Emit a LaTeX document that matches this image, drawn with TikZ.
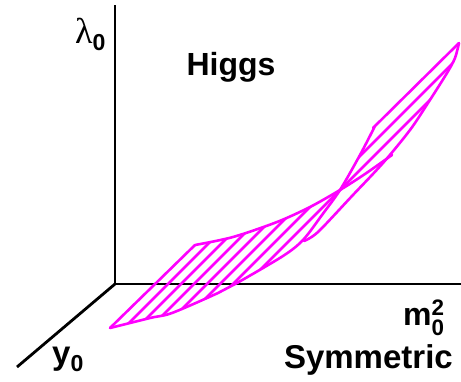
\documentclass[tikz,border=0pt]{standalone}
\usepackage{amsmath}
\usepackage{fontspec}
\setmainfont{Liberation Sans}
\newfontfamily\lamfont{Liberation Serif}
\usetikzlibrary{positioning}
\definecolor{phasemagenta}{HTML}{FF00FF}

\begin{document}
\begin{tikzpicture}[x=1pt,y=-1pt,axis/.style={line width=2.8pt},phase/.style={draw=phasemagenta,line width=2.6pt,line cap=round,line join=round},lbl/.style={font=\fontsize{33}{33}\selectfont\bfseries,inner sep=0pt}]
\useasboundingbox (0,0) rectangle (461,381);
% axes
\coordinate (orig) at (115,284);\coordinate (ytop) at (115,5);\coordinate (xend) at (461,284);\coordinate (zend) at (17,367);
\draw[axis] (ytop)--(orig)--(xend);\draw[axis] (orig)--(zend);
% hatching, lower lobe
\begin{scope}
\clip (110,328) -- plot[smooth] coordinates {(195,245) (233,237) (277,222) (310,207) (340,190)} -- plot[smooth] coordinates {(340,190) (322,215) (303,240) (283,256) (237,283) (218,293) (172,313) (150,318) (110,328)} -- cycle;
\foreach \c in {452,465,...,530} \draw[phase] ({\c-380},380) -- (\c,0);
\end{scope}
% hatching, upper lobe
\begin{scope}
\clip plot[smooth] coordinates {(304,241) (322,215) (340,190) (360,155) (375,126)} -- (459,43) -- plot[smooth] coordinates {(459,43) (455,58) (447,73) (428,103) (410,130) (383,163) (352,196) (318,232) (304,241)} -- cycle;
\foreach \c in {516,530} \draw[phase] ({\c-380},380) -- (\c,0);
\end{scope}
% boundaries
\draw[phase] (110,328) -- (195,245);
\draw[phase] plot[smooth] coordinates {(195,245) (233,237) (277,222) (310,207) (340,190) (365,174) (392,155)};
\draw[phase] plot[smooth] coordinates {(110,328) (150,318) (172,313) (218,293) (237,283) (283,256) (303,240) (322,215) (340,190) (360,155) (375,126)} -- (373,128) -- (459,43);
\draw[phase] plot[smooth] coordinates {(459,43) (455,58) (447,73) (428,103) (410,130) (383,163) (352,196) (318,232) (304,241)};
% labels
\node[lbl,anchor=base west] (lam) at (75,43) {$\text{\lamfont\mdseries\fontsize{36}{36}\selectfont λ}_{\text{0}}$};
\node[lbl,anchor=base,font=\fontsize{32}{32}\selectfont\bfseries] (higgs) at (231,75) {Higgs};
\node[lbl,anchor=base west,font=\fontsize{32}{32}\selectfont\bfseries] (msq) at (403,325) {m$_{\text{0}}^{\text{2}}$};
\node[lbl,anchor=base east,font=\fontsize{33}{33}\selectfont\bfseries] (symm) at (453,368) {Symmetric};
\node[lbl,anchor=base west] (yzero) at (52,364) {y$_{\text{0}}$};
\end{tikzpicture}
\end{document}
